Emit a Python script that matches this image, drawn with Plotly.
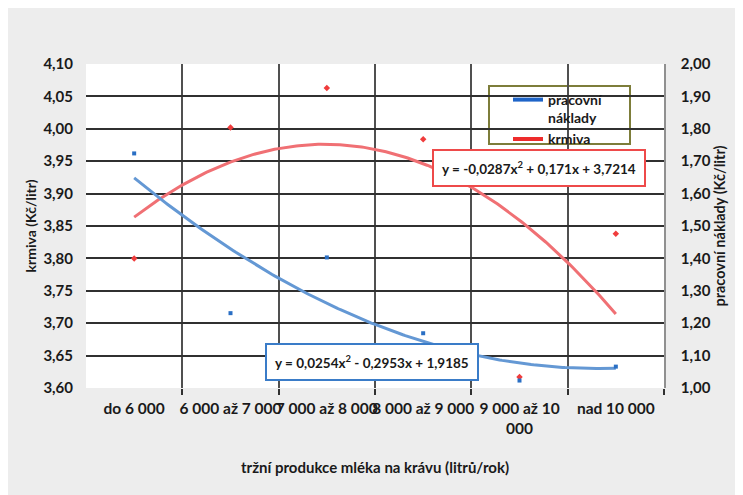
import numpy as np
import plotly.graph_objects as go

# ---- data ----
categories = ["do 6 000", "6 000 až 7 000", "7 000 až 8 000", "8 000 až 9 000",
              "9 000 až 10<br>000", "nad 10 000"]
krmiva = [3.800, 4.002, 4.063, 3.984, 3.617, 3.838]          # left axis (Kč/litr)
pracovni_naklady = [1.724, 1.231, 1.403, 1.169, 1.023, 1.066]  # right axis (Kč/litr)
# trendline coefficients shown in the chart (a*x^2 + b*x + c)
krmiva_coef = [-0.0287, 0.171, 3.7214]
pracovni_coef = [0.0254, -0.2953, 1.9185]
krmiva_eq = "y = -0,0287x<sup>2</sup> + 0,171x + 3,7214"
pracovni_eq = "y = 0,0254x<sup>2</sup> - 0,2953x + 1,9185"
left_ticks = [3.60, 3.65, 3.70, 3.75, 3.80, 3.85, 3.90, 3.95, 4.00, 4.05, 4.10]
right_ticks = [1.00, 1.10, 1.20, 1.30, 1.40, 1.50, 1.60, 1.70, 1.80, 1.90, 2.00]

pos = list(range(1, len(categories) + 1))
xs = np.linspace(1, len(categories), 200)

FONT = "Lato"
TXT = "#1a1a1a"
BLUE_PT = "#2a6fc4"
RED_PT = "#f03c3c"
BLUE_TR = "rgb(100,152,212)"
RED_TR = "rgb(240,112,116)"

fig = go.Figure()

# trendlines
fig.add_trace(go.Scatter(x=xs, y=np.polyval(pracovni_coef, xs), mode="lines",
                         line=dict(color=BLUE_TR, width=3), yaxis="y2",
                         showlegend=False, hoverinfo="skip"))
fig.add_trace(go.Scatter(x=xs, y=np.polyval(krmiva_coef, xs), mode="lines",
                         line=dict(color=RED_TR, width=3), yaxis="y",
                         showlegend=False, hoverinfo="skip"))
# data points
fig.add_trace(go.Scatter(x=pos, y=pracovni_naklady, mode="markers", yaxis="y2",
                         marker=dict(symbol="square", size=4, color=BLUE_PT),
                         showlegend=False))
fig.add_trace(go.Scatter(x=pos, y=krmiva, mode="markers", yaxis="y",
                         marker=dict(symbol="diamond", size=5, color=RED_PT),
                         showlegend=False))
# legend entries
fig.add_trace(go.Scatter(x=[None], y=[None], mode="lines", name="pracovní<br>náklady",
                         line=dict(color="#1e64c8", width=4)))
fig.add_trace(go.Scatter(x=[None], y=[None], mode="lines", name="krmiva",
                         line=dict(color="#ee2c2c", width=4)))

OFF = 8  # page body margin
W, H = 743 - OFF, 495 - OFF
L, T = 86 - OFF, 64 - OFF
pw, ph = 578, 324
R, B = W - L - pw, H - T - ph


def px(x):
    return (x - OFF - L) / pw


def py(y):
    return (H - B - (y - OFF)) / ph


fig.update_layout(
    width=W, height=H,
    margin=dict(l=L, r=R, t=T, b=B, autoexpand=False),
    paper_bgcolor="#ededed",
    plot_bgcolor="white",
    font=dict(family=FONT, size=14, color=TXT),
    xaxis=dict(
        range=[0.5, len(categories) + 0.5],
        tickvals=pos, ticktext=categories, ticks="", showgrid=False,
        zeroline=False, showline=False, tickangle=0, automargin=False,
        tickfont=dict(family=FONT, size=15.5, color=TXT, weight="bold"),
        ticklabelstandoff=9,
        minor=dict(tickvals=[1.5, 2.5, 3.5, 4.5, 5.5, 6.5], showgrid=True,
                   gridcolor="#505050", gridwidth=1.5, ticks="outside",
                   ticklen=6, tickcolor="#303030", tickwidth=1.5),
        title=dict(text="tržní produkce mléka na krávu (litrů/rok)",
                   font=dict(family=FONT, size=15, color=TXT, weight="bold"),
                   standoff=26),
    ),
    yaxis=dict(
        range=[3.60, 4.10], tickvals=left_ticks, automargin=False,
        ticktext=[f"{v:.2f}".replace(".", ",") for v in left_ticks],
        showgrid=True, gridcolor="#303030", gridwidth=1.6, zeroline=False,
        showline=False, ticks="", ticklabelstandoff=12,
        tickfont=dict(family=FONT, size=15, color=TXT, weight="bold"),
        title=dict(text="krmiva (Kč/litr)",
                   font=dict(family=FONT, size=14, color=TXT, weight="bold"),
                   standoff=3),
    ),
    yaxis2=dict(
        range=[1.00, 2.00], tickvals=right_ticks, automargin=False,
        ticktext=[f"{v:.2f}".replace(".", ",") for v in right_ticks],
        overlaying="y", side="right", showgrid=False, zeroline=False,
        showline=True, linecolor="#909090", linewidth=1.5, ticks="",
        ticklabelstandoff=12,
        tickfont=dict(family=FONT, size=15, color=TXT, weight="bold"),
        title=dict(text="pracovní náklady (Kč/litr)",
                   font=dict(family=FONT, size=14.5, color=TXT, weight="bold"),
                   standoff=4),
    ),
    legend=dict(
        x=px(508), y=py(84), xanchor="left", yanchor="top",
        bgcolor="rgba(0,0,0,0)", borderwidth=0,
        font=dict(family=FONT, size=14, color=TXT, weight="bold"),
        valign="top", tracegroupgap=0, itemwidth=30,
    ),
    shapes=[
        # chart frame
        dict(type="rect", xref="paper", yref="paper", layer="below",
             x0=px(7.5), x1=px(760), y0=py(510), y1=py(7.5),
             fillcolor="rgba(0,0,0,0)", line=dict(color="#b4b4b4", width=1)),
        # legend box
        dict(type="rect", xref="paper", yref="paper", layer="below",
             x0=px(489), x1=px(630), y0=py(144), y1=py(86),
             fillcolor="white", line=dict(color="#7d7d3a", width=2)),
    ],
    annotations=[
        dict(text=krmiva_eq, xref="paper", yref="paper",
             x=px(538.5), y=py(168), xanchor="center", yanchor="middle",
             showarrow=False,
             font=dict(family=FONT, size=13.5, color=TXT, weight="bold"),
             bgcolor="white", bordercolor="#ee4a4a", borderwidth=2, borderpad=8),
        dict(text=pracovni_eq, xref="paper", yref="paper",
             x=px(372), y=py(361.5), xanchor="center", yanchor="middle",
             showarrow=False,
             font=dict(family=FONT, size=13.5, color=TXT, weight="bold"),
             bgcolor="white", bordercolor="#3a7cc8", borderwidth=2, borderpad=8),
    ],
)

fig.write_html("out.html")
